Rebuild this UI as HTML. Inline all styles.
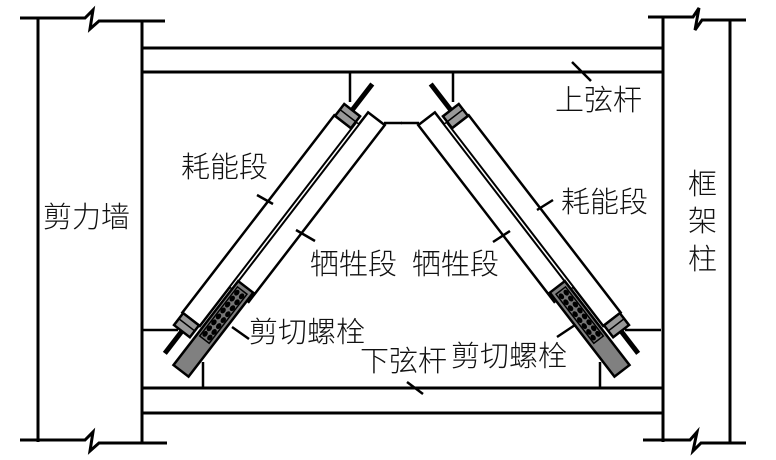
<!DOCTYPE html>
<html><head><meta charset="utf-8"><style>
html,body{margin:0;padding:0;background:#fff;}
svg{display:block;}
text{font-family:"Liberation Sans","Noto Sans CJK SC",sans-serif;font-size:29px;font-weight:300;fill:#111;dominant-baseline:central;}
</style></head><body>
<svg width="776" height="460" viewBox="0 0 776 460" xmlns="http://www.w3.org/2000/svg">
<defs>
<g id="brace">
  <g transform="translate(343,122) rotate(127.6)" stroke="#000" stroke-width="2.5">
    <rect x="0" y="-11" width="249" height="22" fill="#fff"/>
    <rect x="-23" y="-35" width="223" height="21" fill="#fff"/>
    <rect x="-8" y="-14" width="208" height="3" fill="#fff" stroke-width="1.5"/>
    <rect x="190" y="-33" width="106" height="19" fill="#808080"/>
    <rect x="195" y="-29" width="62" height="12" fill="#777" stroke-width="1.5"/>
    <g fill="#000" stroke="none">
      <ellipse cx="200" cy="-26" rx="3.2" ry="2.4"/><ellipse cx="207.5" cy="-26" rx="3.2" ry="2.4"/><ellipse cx="215" cy="-26" rx="3.2" ry="2.4"/><ellipse cx="222.5" cy="-26" rx="3.2" ry="2.4"/><ellipse cx="230" cy="-26" rx="3.2" ry="2.4"/><ellipse cx="237.5" cy="-26" rx="3.2" ry="2.4"/><ellipse cx="245" cy="-26" rx="3.2" ry="2.4"/><ellipse cx="252" cy="-26" rx="3.2" ry="2.4"/>
      <ellipse cx="200" cy="-20" rx="3.2" ry="2.4"/><ellipse cx="207.5" cy="-20" rx="3.2" ry="2.4"/><ellipse cx="215" cy="-20" rx="3.2" ry="2.4"/><ellipse cx="222.5" cy="-20" rx="3.2" ry="2.4"/><ellipse cx="230" cy="-20" rx="3.2" ry="2.4"/><ellipse cx="237.5" cy="-20" rx="3.2" ry="2.4"/><ellipse cx="245" cy="-20" rx="3.2" ry="2.4"/><ellipse cx="252" cy="-20" rx="3.2" ry="2.4"/>
    </g>
    <line x1="-48" y1="0" x2="0" y2="0" stroke-width="5"/>
    <line x1="249" y1="0" x2="292" y2="0" stroke-width="5"/>
    <rect x="-15" y="-10" width="15" height="20" fill="#999"/>
    <rect x="249" y="-10" width="15" height="20" fill="#999"/>
    <line x1="-8" y1="-10" x2="-8" y2="10" stroke-width="1.5"/>
    <line x1="256" y1="-10" x2="256" y2="10" stroke-width="1.5"/>
  </g>
  <g stroke="#000" stroke-width="2.5" fill="none">
    <line x1="350" y1="72" x2="350" y2="102"/>
    <line x1="384" y1="123" x2="402" y2="123"/>
    <line x1="142" y1="330" x2="178" y2="330"/>
    <line x1="203" y1="362" x2="203" y2="388"/>
  </g>
</g>
</defs>
<g stroke="#000" stroke-width="3" fill="none">
  <line x1="38" y1="18" x2="38" y2="442"/>
  <line x1="142" y1="20" x2="142" y2="444"/>
  <polyline points="20,18 85,18 93,10 90,29 99,21 165,21"/>
  <polyline points="20,440 85,440 93,432 90,451 99,443 167,443"/>
  <line x1="663" y1="18" x2="663" y2="442"/>
  <line x1="730" y1="20" x2="730" y2="444"/>
  <polyline points="648,17 693,17 699,8 695,30 702,20 746,20"/>
  <polyline points="643,440 690,440 697,432 693,451 701,443 746,443"/>
  <line x1="142" y1="48" x2="663" y2="48"/>
  <line x1="142" y1="72" x2="663" y2="72"/>
  <line x1="142" y1="388" x2="663" y2="388"/>
  <line x1="142" y1="413" x2="663" y2="413"/>
</g>
<use href="#brace"/>
<use href="#brace" transform="translate(803,0) scale(-1,1)"/>
<g stroke="#000" stroke-width="2.5">
  <line x1="572" y1="62" x2="591" y2="81"/>
  <line x1="537" y1="210" x2="553" y2="200"/>
  <line x1="257" y1="195" x2="273" y2="204"/>
  <line x1="296" y1="230" x2="315" y2="241"/>
  <line x1="493" y1="242" x2="510" y2="231"/>
  <line x1="232" y1="327" x2="249" y2="339"/>
  <line x1="557" y1="337" x2="575" y2="325"/>
  <line x1="407" y1="382" x2="423" y2="394"/>
</g>
<text x="555" y="101">上弦杆</text>
<text x="561" y="203">耗能段</text>
<text x="181" y="168">耗能段</text>
<text x="43" y="218">剪力墙</text>
<text x="688" y="185">框</text>
<text x="688" y="222">架</text>
<text x="688" y="260">柱</text>
<text x="310" y="265">牺牲段</text>
<text x="412" y="265">牺牲段</text>
<text x="249" y="333">剪切螺栓</text>
<text x="360" y="362">下弦杆</text>
<text x="451" y="357">剪切螺栓</text>
</svg>
</body></html>
